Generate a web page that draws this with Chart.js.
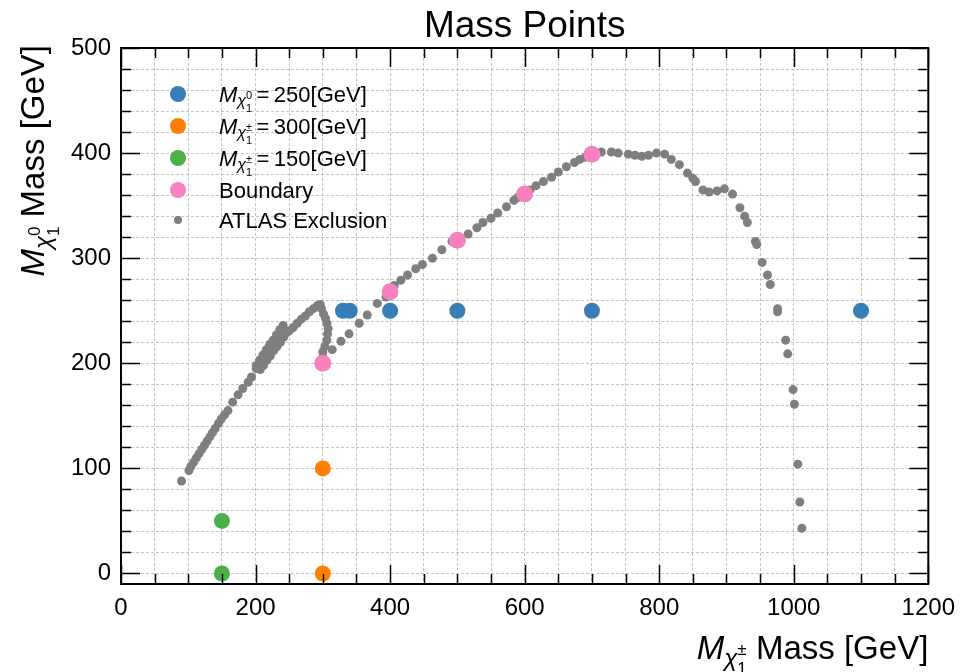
<!DOCTYPE html>
<html>
<head>
<meta charset="utf-8">
<script src="https://cdn.jsdelivr.net/npm/chart.js@4.4.1/dist/chart.umd.min.js"></script>
<style>
  html, body { margin: 0; padding: 0; background: #fff; }
  #wrap { width: 965px; height: 672px; }
</style>
</head>
<body>
<div id="wrap"><canvas id="mass-chart" width="965" height="672"></canvas></div>
<script>
// ---- data ----
const xTicks = [0, 200, 400, 600, 800, 1000, 1200];
const yTicks = [0, 100, 200, 300, 400, 500];

const blueX = [330, 340, 400, 500, 700, 1100];
const blueY = [250, 250, 250, 250, 250, 250];
const orangeX = [300, 300];
const orangeY = [0, 100];
const greenX = [150, 150];
const greenY = [0, 50];
const boundaryX = [300, 400, 500, 600, 700];
const boundaryY = [200, 268, 317, 361, 399];

const atlasX = [90, 101, 104, 108, 112, 116, 120, 124, 128, 132, 136, 140, 145, 149, 154, 159, 166, 174, 181, 189, 194, 201,
  201, 206, 211, 216, 221, 226, 231, 236, 241,
  207, 212, 217, 222, 227, 232, 237, 242, 246,
  250, 256, 262, 268, 274, 280, 286, 292, 296,
  298, 301, 304, 306, 308, 307, 306, 303, 300, 300,
  314, 327, 339, 354, 366, 381, 394, 406, 416, 426, 438, 448, 463, 477, 492,
  516, 529, 538, 550, 560, 573, 584, 590, 600, 608, 617, 628, 640, 650, 662, 674, 682, 690, 700,
  714, 729, 739, 754, 764, 774, 784, 796, 808, 818, 830, 842, 850, 854, 865, 874, 886, 897, 909,
  920, 927, 931, 943, 945, 953, 961, 965, 976, 976, 988, 991, 999, 1001, 1006, 1009, 1012];
const atlasY = [88, 98, 102, 106, 110, 114, 118, 122, 126, 130, 134, 138, 143, 147, 151, 155, 163, 170, 176, 182, 187, 195,
  198, 203, 208, 213, 218, 222, 227, 232, 236,
  194, 198, 203, 207, 212, 216, 220, 225, 229,
  231, 234, 238, 242, 245, 249, 252, 255, 256,
  252, 247, 243, 238, 233, 228, 222, 216, 211, 206,
  213, 221, 228, 238, 246, 257, 263, 274, 279, 284, 290, 294, 300, 308, 316,
  323, 329, 334, 338, 343, 349, 355, 358, 362, 365, 369, 373, 377, 382, 387, 391, 394, 396, 399,
  401, 401, 400, 399, 398, 397, 398, 400, 399, 394, 389, 381, 376, 373, 365, 363, 364, 366, 361,
  348, 340, 334, 316, 313, 296, 284, 275, 252, 249, 222, 209, 175, 161, 104, 68, 43];

const FONT = '"Liberation Sans", Arial, sans-serif';
const BLUE = '#377eb8', ORANGE = '#ff7f00', GREEN = '#4daf4a', PINK = '#f781bf', GRAY = '#7f7f7f';

const toPts = (xs, ys) => xs.map((x, i) => ({ x: x, y: ys[i] }));
const steps = (a, b, d) => { const out = []; for (let v = a; v <= b + 1e-9; v += d) out.push(v); return out; };

// M_{chi_1^sup} rest, drawn piece by piece
function mathItems(sup, rest) {
    return [
        { t: 'M', s: 1, dy: 0, it: true },
        { t: 'χ', s: 0.72, dy: 0.2, it: true },
        { t: '1', s: 0.5, dy: 0.45, stack: true },
        { t: sup, s: 0.5, dy: -0.12 },
        { t: rest, s: 1, dy: 0 }
    ];
}

function layoutMath(ctx, items, size) {
    let cx = 0, hold = null;
    const out = [];
    for (const it of items) {
        const font = (it.it ? 'italic ' : '') + Math.round(size * it.s) + 'px ' + FONT;
        ctx.font = font;
        const w = ctx.measureText(it.t).width;
        const x0 = hold ? hold.x : cx;
        out.push({ t: it.t, x: x0, dy: it.dy * size, font: font });
        if (it.stack) hold = { x: cx, w: w };
        else if (hold) { cx = hold.x + Math.max(hold.w, w); hold = null; }
        else cx += w;
    }
    return { out: out, width: cx };
}

function drawMath(ctx, items, size, x, y) {
    const lay = layoutMath(ctx, items, size);
    ctx.textAlign = 'left';
    ctx.textBaseline = 'alphabetic';
    ctx.fillStyle = '#000';
    lay.out.forEach(p => { ctx.font = p.font; ctx.fillText(p.t, x + p.x, y + p.dy); });
    return lay.width;
}

const legendRows = [
    { color: BLUE, r: 8, math: mathItems('0', '\u2009=\u2009250[GeV]') },
    { color: ORANGE, r: 8, math: mathItems('±', '\u2009=\u2009300[GeV]') },
    { color: GREEN, r: 8, math: mathItems('±', '\u2009=\u2009150[GeV]') },
    { color: PINK, r: 8, text: 'Boundary' },
    { color: GRAY, r: 4, text: 'ATLAS Exclusion' }
];
const legendRowY = [94, 126, 158, 190, 220];

const decorPlugin = {
    id: 'decor',
    afterDraw(chart) {
        const ctx = chart.ctx;
        const a = chart.chartArea;
        const xs = chart.scales.x, ys = chart.scales.y;
        ctx.save();

        // frame
        ctx.strokeStyle = '#000';
        ctx.lineWidth = 2;
        ctx.strokeRect(a.left, a.top, a.right - a.left, a.bottom - a.top);

        // inward ticks on all four sides
        ctx.lineWidth = 1.5;
        ctx.beginPath();
        steps(0, 1200, 50).forEach(v => {
            const px = Math.round(xs.getPixelForValue(v)) + 0.5;
            const len = v % 200 === 0 ? 19 : 10;
            ctx.moveTo(px, a.bottom); ctx.lineTo(px, a.bottom - len);
            ctx.moveTo(px, a.top); ctx.lineTo(px, a.top + len);
        });
        steps(0, 500, 20).forEach(v => {
            const py = Math.round(ys.getPixelForValue(v)) + 0.5;
            const len = v % 100 === 0 ? 19 : 10;
            ctx.moveTo(a.left, py); ctx.lineTo(a.left + len, py);
            ctx.moveTo(a.right, py); ctx.lineTo(a.right - len, py);
        });
        ctx.stroke();

        // title
        ctx.fillStyle = '#000';
        ctx.font = '37px ' + FONT;
        ctx.textAlign = 'center';
        ctx.textBaseline = 'alphabetic';
        ctx.fillText('Mass Points', (a.left + a.right) / 2, 37);

        // x axis title, right aligned
        const xItems = mathItems('±', ' Mass [GeV]');
        const xw = layoutMath(ctx, xItems, 33).width;
        drawMath(ctx, xItems, 33, a.right - xw, 659);

        // y axis title, rotated, aligned to top
        const yItems = mathItems('0', ' Mass [GeV]');
        const yw = layoutMath(ctx, yItems, 33).width;
        ctx.save();
        ctx.translate(44, a.top - 3);
        ctx.rotate(-Math.PI / 2);
        drawMath(ctx, yItems, 33, -yw, 0);
        ctx.restore();

        // legend
        legendRows.forEach((row, i) => {
            const cy = legendRowY[i];
            ctx.beginPath();
            ctx.fillStyle = row.color;
            ctx.arc(178, cy, row.r, 0, Math.PI * 2);
            ctx.fill();
            if (row.math) {
                drawMath(ctx, row.math, 22, 219, cy + 8);
            } else {
                ctx.fillStyle = '#000';
                ctx.font = '22px ' + FONT;
                ctx.textAlign = 'left';
                ctx.textBaseline = 'alphabetic';
                ctx.fillText(row.text, 219, cy + 8);
            }
        });
        ctx.restore();
    }
};

const gridOpts = { color: '#c4c4c4', lineWidth: 1, drawTicks: false };
const borderOpts = { display: false, dash: [3, 2] };

new Chart(document.getElementById('mass-chart').getContext('2d'), {
    type: 'scatter',
    data: {
        datasets: [
            { label: 'M250', data: toPts(blueX, blueY), backgroundColor: BLUE, borderWidth: 0, pointRadius: 8 },
            { label: 'C300', data: toPts(orangeX, orangeY), backgroundColor: ORANGE, borderWidth: 0, pointRadius: 8 },
            { label: 'C150', data: toPts(greenX, greenY), backgroundColor: GREEN, borderWidth: 0, pointRadius: 8 },
            { label: 'Boundary', data: toPts(boundaryX, boundaryY), backgroundColor: PINK, borderWidth: 0, pointRadius: 8.5 },
            { label: 'ATLAS Exclusion', data: toPts(atlasX, atlasY), backgroundColor: GRAY, borderWidth: 0, pointRadius: 4.5 }
        ]
    },
    options: {
        responsive: false,
        animation: false,
        layout: { padding: { left: 0, right: 33, top: 48, bottom: 0 } },
        plugins: {
            legend: { display: false },
            tooltip: { enabled: false },
            title: { display: false }
        },
        scales: {
            x: {
                type: 'linear',
                min: 0,
                max: 1200,
                afterBuildTicks: s => { s.ticks = steps(0, 1200, 50).map(v => ({ value: v })); },
                afterFit: s => { s.height = 88; },
                ticks: {
                    autoSkip: false,
                    maxRotation: 0,
                    padding: 10,
                    color: '#000',
                    font: { size: 24, family: FONT },
                    callback: v => xTicks.includes(v) ? String(v) : ''
                },
                grid: gridOpts,
                border: borderOpts
            },
            y: {
                type: 'linear',
                min: -10,
                max: 500,
                afterBuildTicks: s => { s.ticks = steps(0, 500, 20).map(v => ({ value: v })); },
                afterFit: s => { s.width = 121; },
                ticks: {
                    autoSkip: false,
                    padding: 10,
                    color: '#000',
                    font: { size: 24, family: FONT },
                    callback: v => yTicks.includes(v) ? String(v) : ''
                },
                grid: gridOpts,
                border: borderOpts
            }
        }
    },
    plugins: [decorPlugin]
});
</script>
</body>
</html>
